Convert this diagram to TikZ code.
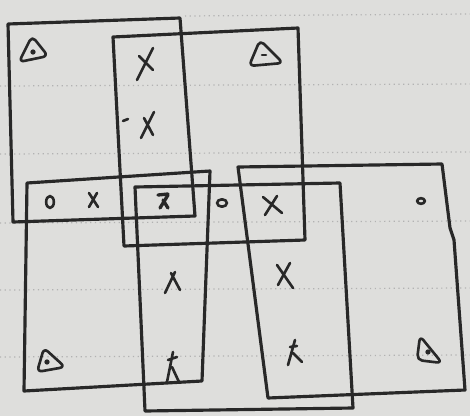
\documentclass[tikz,border=0pt]{standalone}
\definecolor{giay}{RGB}{222,222,220}
\definecolor{muc}{RGB}{40,40,40}
\tikzset{
  net/.style={draw=muc, line width=1.8pt, line cap=round, line join=round},
  kytu/.style={draw=muc, line width=1.5pt, line cap=round, line join=round},
  ke/.style={draw=gray!60, dotted, line width=0.7pt},
}
\begin{document}
\begin{tikzpicture}[x=0.02cm, y=-0.02cm]
				% Nền giấy
				\fill[giay] (0,0) rectangle (470,416);
				\useasboundingbox (0,0) rectangle (470,416);
				% Các dòng kẻ mờ của vở
				\draw[ke] (185,16) -- (470,14);
				\foreach \yy in {86,154,223,290,357}
					\draw[ke] (0,\yy) -- (470,\yy-2);
				% Hình chữ nhật trên trái
				\draw[net] (8,24) -- (180,18) -- (195,216) -- (13,222) -- cycle;
				% Hình chữ nhật trên phải
				\draw[net] (113,37) -- (298,28) -- (305,240) -- (124,246) -- cycle;
				% Hình chữ nhật dưới trái
				\draw[net] (27,183) -- (210,171) -- (202,381) -- (24,391) -- cycle;
				% Hình chữ nhật giữa dưới
				\draw[net] (135,187) -- (340,183) -- (353,408) -- (145,411) -- cycle;
				% Hình chữ nhật dưới phải
				\draw[net] (238,167) -- (442,164) -- (450,228) -- (454,240) -- (465,390) -- (268,398) -- cycle;
				% Các tam giác có chấm
				\draw[kytu, rounded corners=3pt] (32,36) -- (19,62) -- (48,56) -- cycle;
				\fill[muc] (33,52) circle (1.5pt);
				\draw[kytu, rounded corners=3pt] (260,40) -- (249,66) -- (283,63) -- cycle;
				\draw[kytu] (262,55) -- (266,55);
				\draw[kytu, rounded corners=3pt] (44,348) -- (37,372) -- (65,367) -- cycle;
				\fill[muc] (47,362) circle (1.5pt);
				\draw[kytu, rounded corners=3pt] (420,336) -- (417,360) -- (442,363) -- cycle;
				\fill[muc] (428,352) circle (1.5pt);
				% Các dấu x
				\draw[kytu] (153,48) -- (137,80) (139,56) -- (153,70);
				\draw[kytu] (154,112) -- (141,138) (144,118) -- (153,135) (123,121) -- (128,119);
				\draw[kytu] (89,193) -- (98,207) (97,193) -- (89,207);
				\draw[kytu, line width=1.9pt] (158,195) -- (168,194) (168,195) -- (160,208) (163,200) -- (168,208);
				\draw[kytu] (263,197) -- (282,213) (277,196) -- (265,215);
				\draw[kytu] (171,273) -- (180,290) (175,272) -- (165,293);
				\draw[kytu] (277,265) -- (293,288) (290,263) -- (278,285);
				% Các hình người que
				\draw[kytu] (173,352) -- (167,382) (172,367) -- (179,382) (168,360) -- (177,357);
				\draw[kytu] (295,340) -- (288,365) (293,353) -- (302,362) (290,347) -- (297,346);
				% Các vòng tròn nhỏ
				\draw[kytu] (50,202) ellipse (2.2pt and 3.4pt);
				\draw[kytu] (222,203) ellipse (2.8pt and 2.1pt);
				\draw[kytu] (421,201) ellipse (2.2pt and 1.6pt);
			\end{tikzpicture}
\end{document}
